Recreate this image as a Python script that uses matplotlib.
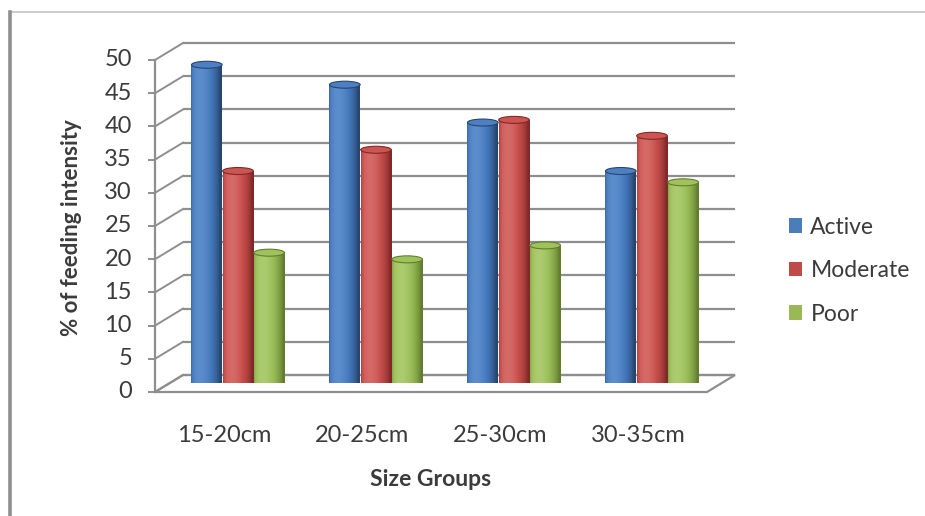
import numpy as np
import matplotlib
matplotlib.use("Agg")
import matplotlib.pyplot as plt
from matplotlib.patches import Ellipse, Polygon, Patch
from matplotlib.lines import Line2D
from matplotlib.colors import to_rgb

# ---- data -------------------------------------------------------------
categories = ["15-20cm", "20-25cm", "25-30cm", "30-35cm"]
series_names = ["Active", "Moderate", "Poor"]
active = [48.0, 45.0, 39.3, 32.0]
moderate = [32.0, 35.2, 39.7, 37.3]
poor = [19.7, 18.7, 20.8, 30.3]
y_ticks = [0, 5, 10, 15, 20, 25, 30, 35, 40, 45, 50]

values = [active, moderate, poor]

# (edge, body, highlight) shades for each series
palettes = [
    ("#27466e", "#4579bd", "#6a9ad6"),
    ("#7e2a28", "#c74d4a", "#de7c79"),
    ("#627d2e", "#98bb55", "#b9d67f"),
]
top_colors = ["#4d80c2", "#cc5451", "#9fc25c"]
legend_colors = ["#4a7ebb", "#be4b48", "#98b954"]

TEXT = "#3b3b3b"
GRID = "#8e8e8e"
FONT = "Lato"

W, H = 925, 516
fig = plt.figure(figsize=(W / 100, H / 100), dpi=100)
fig.patch.set_facecolor("white")

# back wall of the 3-D plot area, placed in pixels
BL, BR, BB, BT = 183, 735, 375, 43
ax = fig.add_axes([BL / W, (H - BB) / H, (BR - BL) / W, (BB - BT) / H])
ax.set_xlim(-0.5, 3.5)
ax.set_ylim(0, 50)
ax.set_autoscale_on(False)
ax.axis("off")

# depth offset of the front plane, converted to data units
DX_PX, DY_PX = 28, 17
px_x = (BR - BL) / 4.0
px_y = (BB - BT) / 50.0
dx = DX_PX / px_x
dy = DY_PX / px_y

x0, x1 = -0.5, 3.5

# floor
floor = Polygon([(x0 - dx, -dy), (x1 - dx, -dy), (x1, 0), (x0, 0)],
                closed=True, facecolor="white", edgecolor=GRID, lw=1.6,
                zorder=1, clip_on=False)
ax.add_patch(floor)

# back-wall gridlines, side diagonals and front value axis
for t in y_ticks:
    ax.plot([x0, x1], [t, t], color=GRID, lw=1.6, zorder=1, clip_on=False,
            solid_capstyle="butt")
    ax.plot([x0 - dx, x0], [t - dy, t], color=GRID, lw=1.4, zorder=1,
            clip_on=False)
    ax.plot([x0 - dx - 6 / px_x, x0 - dx], [t - dy, t - dy], color=GRID,
            lw=1.4, zorder=1, clip_on=False)
    ax.annotate(str(t), xy=(x0 - dx, t - dy), xytext=(-23, 0),
                textcoords="offset pixels", ha="right", va="center",
                fontsize=17, color=TEXT, family=FONT, annotation_clip=False)
ax.plot([x0 - dx, x0 - dx], [-dy, 50 - dy], color=GRID, lw=1.6, zorder=1,
        clip_on=False)

# category labels on the front edge
for i, c in enumerate(categories):
    ax.annotate(c, xy=(i - dx, -dy), xytext=(0, -43),
                textcoords="offset pixels", ha="center", va="center",
                fontsize=17, color=TEXT, family=FONT, annotation_clip=False)


def shade(edge, body, hi, n=64):
    """Horizontal shading of a lit cylinder, left-lit."""
    e, b, h = np.array(to_rgb(edge)), np.array(to_rgb(body)), np.array(to_rgb(hi))
    s = np.linspace(-0.999, 0.999, n)
    ang = np.arcsin(s)
    light = np.clip(np.cos(ang + 0.45), 0, 1)
    cols = []
    for L in light:
        if L < 0.75:
            k = L / 0.75
            cols.append(e + (b - e) * k)
        else:
            k = (L - 0.75) / 0.25
            cols.append(b + (h - b) * k * 0.6)
    return np.array(cols)[None, :, :]


bar_w = 0.222
step = 0.226
eh = 7.0 / px_y  # ellipse height in value units
mid_dx, mid_dy = dx / 2, dy / 2

z = 3
for i in range(len(categories)):
    for k, vals in enumerate(values):
        xc = i + (k - 1) * step - mid_dx
        base = -mid_dy
        v = vals[i]
        grad = shade(*palettes[k])
        bars = ax.bar(xc, v, width=bar_w, bottom=base, color="none",
                      edgecolor="none", zorder=z)
        rect = bars[0]
        im = ax.imshow(grad, extent=(xc - bar_w / 2, xc + bar_w / 2, base, base + v),
                       aspect="auto", zorder=z, interpolation="bilinear")
        im.set_clip_path(rect)
        bot = Ellipse((xc, base), bar_w, eh, facecolor="none", edgecolor="none",
                      zorder=z)
        ax.add_patch(bot)
        im2 = ax.imshow(grad, extent=(xc - bar_w / 2, xc + bar_w / 2,
                                      base - eh / 2, base + eh / 2),
                        aspect="auto", zorder=z, interpolation="bilinear")
        im2.set_clip_path(bot)
        top = Ellipse((xc, base + v), bar_w, eh, facecolor=top_colors[k],
                      edgecolor=palettes[k][0], lw=0.8, zorder=z + 0.5)
        ax.add_patch(top)
        z += 1

ax.set_xlim(-0.5, 3.5)
ax.set_ylim(0, 50)

# axis titles
fig.text(431 / W, 1 - 479 / H, "Size Groups", ha="center", va="center",
         fontsize=16.5, fontweight="bold", color=TEXT, family=FONT)
fig.text(72 / W, 1 - 228 / H, "% of feeding intensity", ha="center",
         va="center", rotation=90, fontsize=16, fontweight="bold",
         color=TEXT, family=FONT)

# legend
handles = [Patch(facecolor=c, edgecolor="none") for c in legend_colors]
fig.legend(handles, series_names, loc="upper left",
           bbox_to_anchor=(768 / W, 1 - 196 / H), frameon=False,
           handlelength=0.6, handleheight=0.6,
           handletextpad=0.35, labelspacing=0.98, labelcolor=TEXT,
           prop={"family": FONT, "size": 16.5})

# chart-area border
fig.add_artist(Line2D([10 / W, 1], [1 - 12 / H, 1 - 12 / H], color="#c4c4c4",
                      lw=1.2, transform=fig.transFigure))
fig.add_artist(Line2D([10 / W, 10 / W], [0, 1 - 12 / H], color="#8f8f8f",
                      lw=2.6, transform=fig.transFigure))

fig.savefig("out.png", dpi=100, facecolor="white")
